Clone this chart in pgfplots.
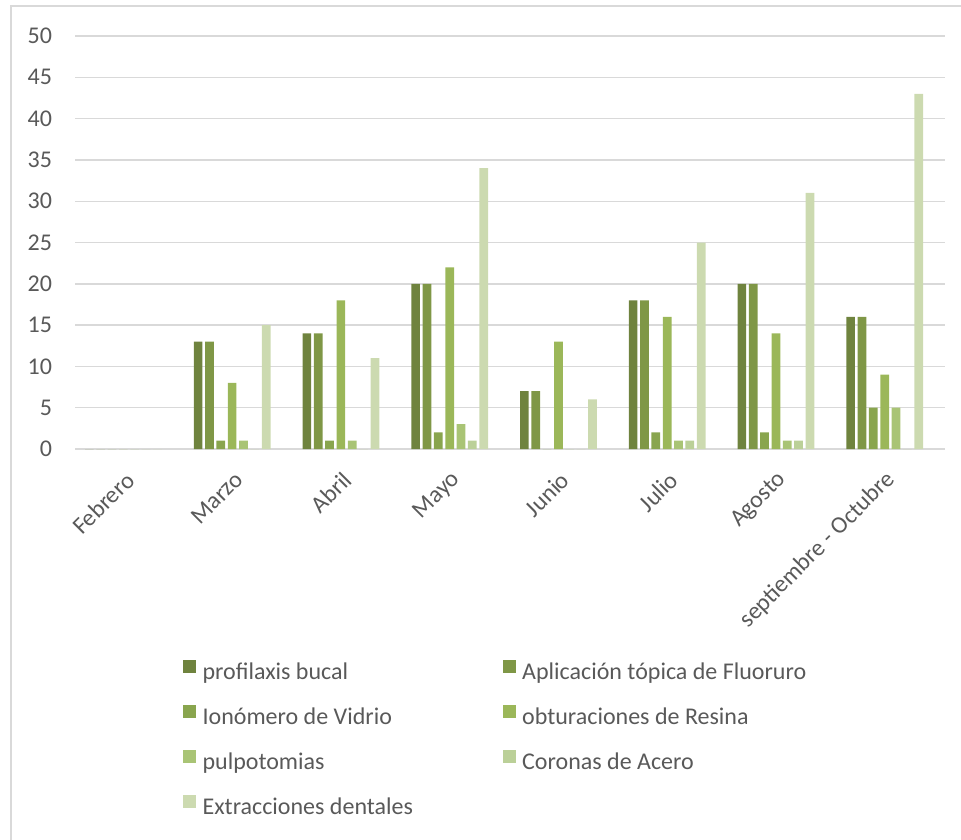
\documentclass[border=0pt]{standalone}
\usepackage{fontspec}
\setmainfont{Carlito}
\usepackage{pgfplots}
\usepackage{pgfplotstable}
\pgfplotsset{compat=1.18}
\definecolor{txt}{RGB}{89,89,89}
\definecolor{gridc}{RGB}{217,217,217}
\definecolor{c1}{RGB}{111,131,62}
\definecolor{c2}{RGB}{127,151,70}
\definecolor{c3}{RGB}{137,165,78}
\definecolor{c4}{RGB}{155,183,89}
\definecolor{c5}{RGB}{169,196,117}
\definecolor{c6}{RGB}{187,208,152}
\definecolor{c7}{RGB}{204,218,176}
\pgfplotstableread{
x s1 s2 s3 s4 s5 s6 s7
0 0 0 0 0 0 0 0
1 13 13 1 8 1 0 15
2 14 14 1 18 1 0 11
3 20 20 2 22 3 1 34
4 7 7 0 13 0 0 6
5 18 18 2 16 1 1 25
6 20 20 2 14 1 1 31
7 16 16 5 9 5 0 43
}\datatable
\begin{document}
\begin{tikzpicture}
\useasboundingbox (-37.5pt,-195pt) rectangle (443pt,224.5pt);
\draw[gridc, line width=0.8pt] (-32pt,-200pt) -- (-32pt,221.5pt) -- (450pt,221.5pt);
\begin{axis}[
  scale only axis, width=435pt, height=206.5pt,
  ymin=0, ymax=50, ytick={0,5,...,50},
  xmin=-0.445, xmax=7.555,
  xtick={0.055,1.055,2.055,3.055,4.055,5.055,6.055,7.055},
  xticklabels={Febrero,Marzo,Abril,Mayo,Junio,Julio,Agosto,septiembre - Octubre},
  xticklabel style={anchor=east, inner sep=0pt, xshift=0.5pt, yshift=-13.5pt, rotate=45},
  ymajorgrids, major grid style={gridc, line width=0.7pt},
  axis line style={draw=none},
  major tick length=0pt,
  tick label style={font=\fontsize{12}{14}\selectfont, text=txt},
  /pgf/number format/assume math mode=true,
  yticklabel style={xshift=-8pt},
  ybar=1.32pt, bar width=4.35pt,
  legend image code/.code={\fill[#1] (0pt,-0.2pt) rectangle (6.25pt,6.05pt); \path (7.6pt,0pt);},
  legend columns=2,
  legend cell align=left,
  legend style={draw=none, fill=none, at={(0.1241,-0.506)}, anchor=north west,
    inner sep=0pt, font=\fontsize{12}{14}\selectfont, text=txt, row sep=8.7pt,
    /tikz/every even column/.append style={column sep=43pt}},
]
\addplot[fill=c1, draw=none] table[x=x, y=s1] {\datatable};
\addplot[fill=c2, draw=none] table[x=x, y=s2] {\datatable};
\addplot[fill=c3, draw=none] table[x=x, y=s3] {\datatable};
\addplot[fill=c4, draw=none] table[x=x, y=s4] {\datatable};
\addplot[fill=c5, draw=none] table[x=x, y=s5] {\datatable};
\addplot[fill=c6, draw=none] table[x=x, y=s6] {\datatable};
\addplot[fill=c7, draw=none] table[x=x, y=s7] {\datatable};
\legend{profilaxis bucal, Aplicación tópica de Fluoruro, Ionómero de Vidrio, obturaciones de Resina, pulpotomias, Coronas de Acero, Extracciones dentales}
\end{axis}
\end{tikzpicture}
\end{document}
